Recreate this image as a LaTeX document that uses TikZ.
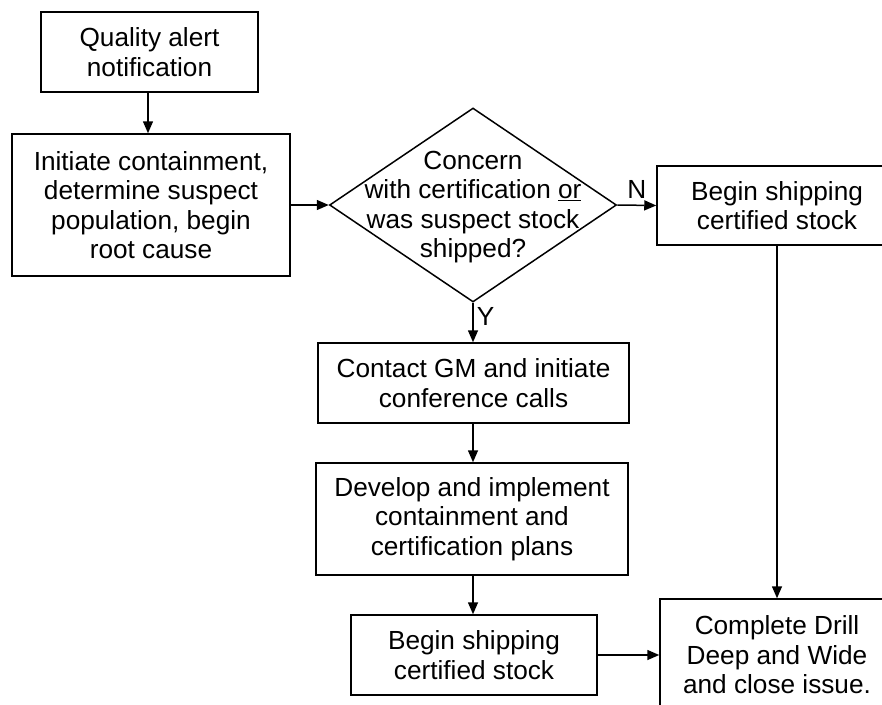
\documentclass[tikz,border=0pt]{standalone}
\usepackage{fontspec}
\setmainfont{Liberation Sans}
\usetikzlibrary{arrows.meta,shapes.geometric}
\begin{document}
\begin{tikzpicture}[x=1pt,y=-1pt,
  every node/.style={font=\fontsize{26.2}{29.5}\selectfont},
  box/.style={draw, line width=1.5pt, inner sep=0pt, align=center},
  txt/.style={inner sep=0pt, align=center},
  conn/.style={line width=1.5pt, -{Triangle[length=12pt,width=10pt]}}]
\clip (0,0) rectangle (882,704);
\fill[white] (0,0) rectangle (882,704);
\node[box, minimum width=217pt, minimum height=80pt] (q) at (149.5,52) {Quality alert\\notification};
\node[box, minimum width=278pt, minimum height=142pt] (init) at (151,205) {Initiate containment,\\determine suspect\\population, begin\\root cause};
\node[diamond, draw, line width=1.5pt, minimum width=287pt, minimum height=194pt, inner sep=0pt] (d) at (473,205) {};
\node[txt] (dt) at (473,207) {Concern\\with certification \underline{or}\\was suspect stock\\shipped?};
\node[box, minimum width=240pt, minimum height=79pt] (ship1) at (777,205.5) {Begin shipping\\certified stock};
\node[box, minimum width=311pt, minimum height=80pt] (gm) at (473.5,383) {Contact GM and initiate\\conference calls};
\node[box, minimum width=312pt, minimum height=112pt] (dev) at (472,519) {Develop and implement\\containment and\\certification plans};
\node[box, minimum width=246pt, minimum height=80pt] (ship2) at (474,655) {Begin shipping\\certified stock};
\node[box, minimum width=234pt, minimum height=112pt] (fin) at (777,655) {Complete Drill\\Deep and Wide\\and close issue.};
\draw[conn] ([xshift=-1.5pt]q.south) -- ([xshift=-1.5pt]q.south |- init.north);
\draw[conn] (init.east) -- (d.west);
\draw[conn] (d.east) -- node[txt, above, yshift=6pt] (nlab) {N} (ship1.west);
\draw[conn] (d.south) -- node[txt, right, xshift=3pt, pos=0.35] (ylab) {Y} (d.south |- gm.north);
\draw[conn] (d.south |- gm.south) -- (d.south |- dev.north);
\draw[conn] (d.south |- dev.south) -- (d.south |- ship2.north);
\draw[conn] (ship2.east) -- (ship2.east -| fin.west);
\draw[conn] (ship1.south) -- (fin.north);
\end{tikzpicture}
\end{document}
